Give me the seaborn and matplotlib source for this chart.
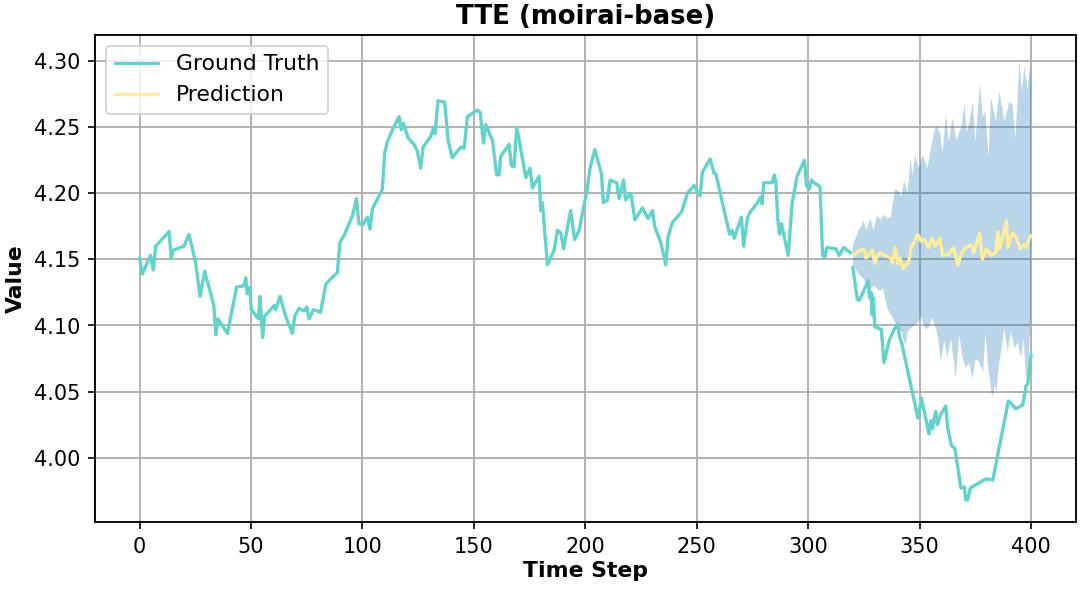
import numpy as np
import matplotlib
matplotlib.use("Agg")
import matplotlib.pyplot as plt
import seaborn as sns

# ground truth, context part (time step, value)
hist_t = [0, 1.2, 4.9, 6.1, 7.2, 13.2, 14.2, 15.1, 19.9, 22.1, 25.1, 27.1, 29.2, 33.3, 34.2, 35.1,
          39.4, 43.5, 46.8, 47.6, 48.3, 49.5, 50.1, 53.3, 54.0, 55.2, 56.1, 60.3, 61.0, 63.0, 65.5,
          68.5, 69.6, 71.5, 73.8, 75.0, 76.0, 78.0, 81.2, 83.5, 85, 88.7, 89.9, 91.7, 95.5, 97.3,
          98.4, 100, 102.2, 103.4, 104.4, 105.9, 108.9, 110, 111.2, 113.4, 116.4, 117.4, 118.4,
          120.4, 123.1, 124.6, 126.1, 127.2, 130.6, 131.8, 132.5, 133.9, 136.9, 138.4, 140.3,
          144.1, 145.6, 147.1, 151.6, 152.8, 154.3, 155.3, 158.3, 160.2, 161.3, 162, 165.8, 166.8,
          168, 169.2, 173.3, 175.2, 176.2, 179.2, 180, 180.7, 183, 186, 187.5, 189, 190.2, 193.4,
          195.2, 197.2, 200.5, 202.1, 204.2, 207.2, 208.1, 209.9, 211.1, 214.1, 215.1, 217.1,
          218.1, 220.4, 222.2, 225.6, 228.1, 230.1, 231.1, 233.8, 236.1, 237.1, 239.1, 243.2,
          245.8, 248.8, 250, 251.5, 252.5, 256, 257.8, 258.5, 264.7, 265.8, 266.8, 270, 271,
          272.8, 274, 277.3, 278.5, 279.3, 280, 283.8, 284.8, 285.5, 286.3, 287.1, 288, 291,
          292.8, 295, 298.3, 299.2, 300.3, 301.4, 302.6, 305.3, 306.4, 307.4, 308.3, 312.4,
          313.9, 315.9, 319]
hist_v = [4.151, 4.139, 4.153, 4.142, 4.160, 4.171, 4.151, 4.157, 4.160, 4.169, 4.148, 4.122, 4.141,
          4.115, 4.093, 4.105, 4.094, 4.129, 4.130, 4.136, 4.124, 4.129, 4.112, 4.105, 4.122,
          4.091, 4.107, 4.115, 4.112, 4.122, 4.107, 4.094, 4.107, 4.113, 4.111, 4.114, 4.105,
          4.112, 4.110, 4.131, 4.134, 4.140, 4.163, 4.168, 4.183, 4.196, 4.177, 4.176, 4.182,
          4.173, 4.188, 4.193, 4.203, 4.231, 4.239, 4.248, 4.258, 4.248, 4.253, 4.242, 4.237,
          4.232, 4.219, 4.235, 4.243, 4.249, 4.245, 4.270, 4.269, 4.240, 4.227, 4.235, 4.234,
          4.258, 4.263, 4.261, 4.238, 4.252, 4.240, 4.214, 4.214, 4.228, 4.237, 4.221, 4.220,
          4.250, 4.212, 4.219, 4.204, 4.213, 4.187, 4.193, 4.146, 4.157, 4.172, 4.170, 4.158,
          4.187, 4.165, 4.172, 4.200, 4.219, 4.233, 4.215, 4.193, 4.195, 4.210, 4.208, 4.196,
          4.210, 4.195, 4.200, 4.180, 4.189, 4.181, 4.187, 4.175, 4.163, 4.146, 4.167, 4.178,
          4.186, 4.200, 4.206, 4.202, 4.198, 4.216, 4.226, 4.215, 4.215, 4.169, 4.172, 4.166,
          4.182, 4.160, 4.182, 4.186, 4.193, 4.197, 4.192, 4.208, 4.208, 4.214, 4.208, 4.181,
          4.169, 4.177, 4.153, 4.193, 4.213, 4.225, 4.206, 4.203, 4.210, 4.208, 4.205, 4.154,
          4.151, 4.159, 4.158, 4.153, 4.159, 4.155]

# ground truth, forecast horizon
fut_t = [320, 322, 323, 326.9, 327.6, 328.2, 328.7, 329.1, 329.9, 332.8, 334, 336.2, 338.5, 340,
         341.2, 341.9, 349.2, 350.8, 354.2, 355, 355.7, 357.2, 358, 359.5, 361.7, 362.5, 364.3,
         365.8, 368.5, 370, 370.7, 371.5, 372.7, 378.7, 380, 382.8, 389.8, 393.2, 396.3, 397.7,
         398.5, 400]
fut_v = [4.144, 4.120, 4.119, 4.134, 4.121, 4.125, 4.108, 4.121, 4.099, 4.097, 4.072, 4.088, 4.097,
         4.101, 4.090, 4.087, 4.030, 4.045, 4.018, 4.028, 4.022, 4.035, 4.025, 4.033, 4.039,
         4.023, 4.009, 4.007, 3.977, 3.978, 3.968, 3.968, 3.977, 3.983, 3.984, 3.983, 4.043,
         4.037, 4.040, 4.054, 4.056, 4.078]

# median prediction
pred_t = [320.5, 322.5, 325.2, 325.9, 328.8, 329.9, 331.1, 332.6, 334.1, 337.1, 337.8, 339, 340.1,
          341.1, 342.6, 343.8, 345, 346.1, 347.6, 349.1, 350.6, 352.1, 354, 355.5, 357.1, 359.1,
          360.3, 363, 365.2, 367.1, 368.6, 370.1, 373.1, 374.2, 376.9, 378.1, 379.9, 382.1, 384.1,
          385.1, 385.9, 387.1, 388.9, 389.6, 390.7, 391.9, 393.4, 395.2, 396.7, 397.9, 399.1, 400]
pred_v = [4.153, 4.156, 4.158, 4.151, 4.157, 4.147, 4.153, 4.155, 4.153, 4.151, 4.147, 4.159, 4.147,
          4.151, 4.143, 4.146, 4.147, 4.159, 4.163, 4.169, 4.164, 4.165, 4.159, 4.166, 4.160,
          4.166, 4.153, 4.154, 4.159, 4.146, 4.154, 4.158, 4.161, 4.155, 4.170, 4.150, 4.158,
          4.153, 4.155, 4.171, 4.158, 4.166, 4.179, 4.159, 4.166, 4.170, 4.166, 4.158, 4.161,
          4.159, 4.166, 4.168]

# prediction interval, upper and lower edges
upper_t = [320.1, 322.6, 324.9, 326, 327.9, 329.2, 330.9, 332.5, 334.2, 335.4, 337, 339, 340.8, 341.9,
           343, 344.5, 346, 346.7, 348, 349.5, 351.3, 353.5, 355, 357.3, 359.1, 360.3, 361.8, 363,
           364.8, 366.5, 367.8, 369, 370.1, 371.1, 372.3, 373.8, 375, 377.1, 378.3, 379.5, 380.9,
           382, 384.2, 385.8, 388, 390.2, 391.7, 392.9, 393.9, 394.7, 395.9, 397, 398.4, 399.4, 400]
upper_v = [4.161, 4.172, 4.179, 4.172, 4.181, 4.172, 4.183, 4.180, 4.184, 4.181, 4.182, 4.203, 4.201,
           4.197, 4.210, 4.200, 4.227, 4.213, 4.229, 4.219, 4.229, 4.219, 4.234, 4.252, 4.246,
           4.231, 4.260, 4.239, 4.257, 4.240, 4.246, 4.252, 4.268, 4.246, 4.254, 4.269, 4.239,
           4.283, 4.258, 4.262, 4.227, 4.273, 4.254, 4.277, 4.254, 4.269, 4.267, 4.241, 4.269,
           4.300, 4.277, 4.296, 4.279, 4.295, 4.285]
lower_t = [320.1, 322.6, 325, 327.1, 329.5, 332.3, 333.5, 335.5, 337.8, 340, 342, 343.7, 344.5, 346,
           349, 350.5, 352.7, 354.2, 355.7, 358, 359.5, 361, 362.5, 364, 365.5, 366.2, 367.8, 369.3,
           370.7, 372.2, 373.7, 375.2, 376.8, 378.5, 379.5, 380.7, 382.5, 383.7, 384.5, 385.5,
           386.5, 388, 389.5, 391, 392.5, 394, 395.5, 396.7, 397.7, 398.8, 399.3, 400]
lower_v = [4.146, 4.139, 4.135, 4.126, 4.130, 4.126, 4.128, 4.113, 4.106, 4.099, 4.095, 4.084, 4.095,
           4.098, 4.102, 4.107, 4.097, 4.099, 4.106, 4.094, 4.073, 4.088, 4.076, 4.090, 4.070,
           4.060, 4.093, 4.075, 4.068, 4.072, 4.060, 4.075, 4.072, 4.065, 4.095, 4.070, 4.045,
           4.055, 4.050, 4.070, 4.080, 4.098, 4.080, 4.095, 4.083, 4.087, 4.076, 4.090, 4.060,
           4.065, 4.090, 4.106]

gt_color = '#62d3cb'
pred_color = '#ffed9e'

sns.set_style("ticks")
plt.rcParams.update({'text.color': 'black', 'axes.labelcolor': 'black',
                     'xtick.color': 'black', 'ytick.color': 'black'})
fig, ax = plt.subplots(figsize=(7.2, 3.927), dpi=150)
fig.subplots_adjust(left=0.088, right=0.996, top=0.941, bottom=0.113)

# interval band (upper edge then lower edge back)
ax.fill(np.r_[upper_t, lower_t[::-1]], np.r_[upper_v, lower_v[::-1]],
        color='tab:blue', alpha=0.3, lw=0, zorder=1)

sns.lineplot(x=hist_t, y=hist_v, ax=ax, color=gt_color, lw=1.6, sort=False,
             estimator=None, label='Ground Truth', zorder=3)
sns.lineplot(x=fut_t, y=fut_v, ax=ax, color=gt_color, lw=1.6, sort=False,
             estimator=None, zorder=3)
sns.lineplot(x=pred_t, y=pred_v, ax=ax, color=pred_color, lw=1.6, sort=False,
             estimator=None, label='Prediction', zorder=4)

ax.set_xlim(-20, 420)
ax.set_ylim(3.951, 4.320)
ax.set_xticks(range(0, 401, 50))
ax.set_yticks([4.00, 4.05, 4.10, 4.15, 4.20, 4.25, 4.30])
ax.yaxis.set_major_formatter(matplotlib.ticker.FormatStrFormatter('%.2f'))
ax.grid(True, color='#b0b0b0', lw=0.9)
for s in ax.spines.values():
    s.set_color('black')
    s.set_linewidth(0.9)
ax.tick_params(axis='both', labelsize=10, length=3.5, width=0.8, color='black',
               labelcolor='black')

ax.set_title('TTE (moirai-base)', fontsize=12.5, fontweight='bold', pad=5, color='black')
ax.set_xlabel('Time Step', fontsize=10.5, fontweight='bold', labelpad=2)
ax.set_ylabel('Value', fontsize=10.5, fontweight='bold', labelpad=4)
leg = ax.legend(loc='upper left', fontsize=10.5, framealpha=0.8, edgecolor='#cccccc')
for txt in leg.get_texts():
    txt.set_color('black')

fig.savefig('out.png', dpi=150)
